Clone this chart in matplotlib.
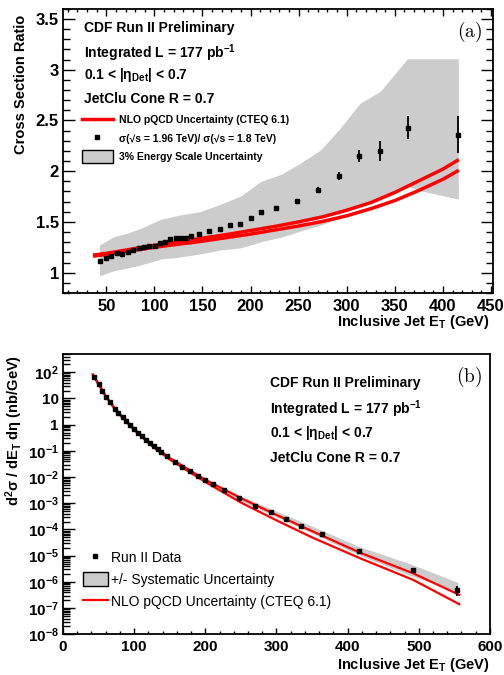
import numpy as np
import matplotlib
matplotlib.use("Agg")
import matplotlib.pyplot as plt
from matplotlib.lines import Line2D
from matplotlib.patches import Patch
from matplotlib.ticker import MultipleLocator, FixedLocator, FixedFormatter, NullFormatter

plt.rcParams["font.family"] = ["Liberation Sans", "DejaVu Sans"]
plt.rcParams["mathtext.fontset"] = "custom"
plt.rcParams["mathtext.rm"] = "Liberation Sans"
plt.rcParams["mathtext.it"] = "Liberation Sans:italic"
plt.rcParams["mathtext.bf"] = "Liberation Sans:bold"

# jet ET bins (GeV)
et_bins = [43.4, 49.9, 55.3, 61.0, 66.6, 72.6, 78.0, 83.8, 89.2, 94.7, 100.3, 105.7,
           111.2, 116.5, 122.1, 127.5, 133.0, 138.4, 146.2, 157.2, 167.9, 178.7, 189.4,
           200.2, 210.9, 226.6, 248.0, 269.8, 291.9, 313.0, 335.1, 364.0, 416.0, 492.3, 554.1]

# (a) ratio 1.96 / 1.8 TeV
ratio = [1.11, 1.14, 1.16, 1.19, 1.18, 1.20, 1.22, 1.24, 1.25, 1.26, 1.26, 1.29,
         1.30, 1.33, 1.34, 1.34, 1.34, 1.36, 1.38, 1.41, 1.43, 1.47, 1.48,
         1.54, 1.60, 1.64, 1.71, 1.81, 1.95, 2.15, 2.20, 2.43, 2.36]
ratio_err = [0.005, 0.005, 0.005, 0.005, 0.005, 0.005, 0.005, 0.005, 0.005, 0.005, 0.005, 0.005,
             0.005, 0.005, 0.005, 0.005, 0.005, 0.005, 0.005, 0.005, 0.005, 0.005, 0.005,
             0.008, 0.01, 0.012, 0.02, 0.03, 0.04, 0.06, 0.1, 0.11, 0.18]

scale_et = [43, 58, 72, 86, 107, 124, 148, 169, 190, 211, 232, 252, 273, 292, 314, 335, 363, 380, 416]
scale_hi = [1.273, 1.355, 1.389, 1.438, 1.527, 1.563, 1.602, 1.675, 1.757, 1.90, 1.97, 2.08,
            2.21, 2.41, 2.67, 2.787, 3.107, 3.107, 3.107]
scale_lo = [0.967, 1.02, 1.045, 1.076, 1.135, 1.15, 1.185, 1.224, 1.245, 1.305, 1.35, 1.41,
            1.47, 1.53, 1.60, 1.70, 1.85, 1.80, 1.725]

nlo_ratio_et = [38, 50, 75, 100, 125, 150, 175, 200, 225, 250, 275, 300, 325, 350, 375, 400, 415]
nlo_ratio_hi = [1.175, 1.19, 1.23, 1.27, 1.305, 1.34, 1.375, 1.415, 1.455, 1.50, 1.55, 1.615,
                1.69, 1.79, 1.905, 2.02, 2.105]
nlo_ratio_lo = [1.165, 1.178, 1.215, 1.25, 1.28, 1.31, 1.345, 1.38, 1.42, 1.46, 1.505, 1.56,
                1.63, 1.71, 1.81, 1.92, 2.0]

# (b) cross section (nb/GeV)
xsec = [64, 36, 18.8, 11.4, 7.1, 4.1, 2.8, 1.9, 1.34, 0.94, 0.68, 0.48, 0.36, 0.27, 0.20,
        0.153, 0.117, 0.090, 0.0616, 0.0374, 0.0248, 0.0165, 0.0106, 0.00746, 0.00525,
        0.0031, 0.00158, 8.0e-4, 4.47e-4, 2.56e-4, 1.42e-4, 6.6e-5, 1.53e-5, 2.79e-6, 5.0e-7]
xsec_err = [0, 0, 0, 0, 0, 0, 0, 0, 0, 0, 0, 0, 0, 0, 0, 0, 0, 0, 0, 0, 0, 0, 0, 0, 0,
            0, 0, 0, 0, 0, 0, 0, 1.0e-6, 4.5e-7, 2.2e-7]

syst_et = [43, 60, 80, 100, 125, 150, 175, 200, 250, 300, 350, 416, 492, 555]
syst_hi = [72, 14.1, 2.8, 0.79, 0.195, 0.060, 0.0219, 0.0089, 1.9e-3, 5.0e-4, 1.35e-4,
           2.24e-5, 4.5e-6, 9.5e-7]
syst_lo = [56, 11.0, 2.19, 0.62, 0.151, 0.046, 0.0162, 0.0063, 1.26e-3, 3.0e-4, 7.2e-5,
           1.07e-5, 1.6e-6, 4.2e-7]

nlo_et = [42, 50, 60, 75, 100, 125, 150, 200, 250, 300, 350, 417, 492, 557]
nlo_hi = [83, 36.3, 12.6, 3.47, 0.69, 0.174, 0.0537, 7.9e-3, 1.58e-3, 3.6e-4, 8.7e-5,
          1.32e-5, 2.14e-6, 3.2e-7]
nlo_lo = [79, 34.7, 12.0, 3.24, 0.63, 0.155, 0.0468, 6.5e-3, 1.07e-3, 2.24e-4, 5.0e-5,
          8.1e-6, 1.2e-6, 1.41e-7]

band_col = "#cccccc"

fig = plt.figure(figsize=(5.04, 6.75), dpi=100)

# ---------------- panel (a) ----------------
ax1 = fig.add_axes([0.125, 0.566, 0.853, 0.421])
ax1.fill_between(scale_et, scale_lo, scale_hi, color=band_col, lw=0)
# gap between the two NLO curves is left white where the band does not reach
ax1.fill_between(nlo_ratio_et, nlo_ratio_lo, nlo_ratio_hi, color="white", lw=0,
                 where=np.array(nlo_ratio_et) <= 350)
ax1.plot(nlo_ratio_et, nlo_ratio_hi, color="red", lw=2.5)
ax1.plot(nlo_ratio_et, nlo_ratio_lo, color="red", lw=2.5)
n = len(ratio)
ax1.errorbar(et_bins[:n], ratio, yerr=ratio_err, fmt="s", color="black", ms=3,
             elinewidth=1.3, capsize=0)
ax1.set_xlim(5, 452)
ax1.set_ylim(0.8, 3.6)
ax1.xaxis.set_major_locator(MultipleLocator(50))
ax1.xaxis.set_minor_locator(MultipleLocator(10))
ax1.yaxis.set_major_locator(MultipleLocator(0.5))
ax1.yaxis.set_minor_locator(MultipleLocator(0.1))
ax1.tick_params(which="both", direction="in", top=True, right=True, width=1)
ax1.tick_params(axis="x", which="major", length=5, labelsize=12, pad=4)
ax1.tick_params(axis="x", which="minor", length=2.5)
ax1.tick_params(axis="y", which="major", length=8.5, labelsize=12, pad=3)
ax1.tick_params(axis="y", which="minor", length=5)
ax1.yaxis.set_major_formatter(matplotlib.ticker.FuncFormatter(lambda v, p: "%g" % v))
for lab in ax1.get_xticklabels() + ax1.get_yticklabels():
    lab.set_fontweight("bold")
for sp in ax1.spines.values():
    sp.set_linewidth(1.3)

ax1.set_ylabel("Cross Section Ratio", fontsize=10.5, fontweight="bold", loc="top")
ax1.yaxis.set_label_coords(-0.081, 0.979)
ax1.set_xlabel(r"Inclusive Jet E$_{\mathbf{T}}$ (GeV)", fontsize=10.5,
               fontweight="bold", loc="right")
ax1.xaxis.set_label_coords(0.993, -0.07)

txt = dict(transform=ax1.transAxes, fontsize=10, fontweight="bold", va="center", ha="left")
ax1.text(0.049, 0.931, "CDF Run II Preliminary", **txt)
ax1.text(0.049, 0.844, r"Integrated L = 177 pb$^{\mathbf{-1}}$", **txt)
ax1.text(0.049, 0.768, r"0.1 < |η$_{\mathbf{Det}}$| < 0.7", **txt)
ax1.text(0.049, 0.682, "JetClu Cone R = 0.7", **txt)
ax1.text(0.974, 0.919, r"$\mathrm{(a)}$", math_fontfamily="cm", fontsize=14,
         transform=ax1.transAxes, ha="right", va="center")

h1 = [Line2D([], [], color="red", lw=2.5),
      Line2D([], [], color="black", marker="s", ls="none", ms=3),
      Patch(facecolor=band_col, edgecolor="black", lw=1)]
l1 = ["NLO pQCD Uncertainty (CTEQ 6.1)",
      "σ(√s = 1.96 TeV)/ σ(√s = 1.8 TeV)",
      "3% Energy Scale Uncertainty"]
ax1.legend(h1, l1, loc="upper left", bbox_to_anchor=(0.045, 0.63), frameon=False,
           prop={"weight": "bold", "size": 7.5}, handlelength=2.9, handleheight=1.4,
           handletextpad=0.65, labelspacing=0.6, borderpad=0, borderaxespad=0)

# ---------------- panel (b) ----------------
ax2 = fig.add_axes([0.125, 0.0603, 0.847, 0.4153])
ax2.set_yscale("log")
ax2.fill_between(syst_et, syst_lo, syst_hi, color=band_col, lw=0)
ax2.plot(nlo_et, nlo_hi, color="red", lw=1.6)
ax2.plot(nlo_et, nlo_lo, color="red", lw=1.6)
ax2.errorbar(et_bins, xsec, yerr=xsec_err, fmt="s", color="black", ms=3.4,
             elinewidth=1.3, capsize=0)
ax2.set_xlim(0, 600)
ax2.set_ylim(1e-8, 5e2)
ax2.xaxis.set_major_locator(MultipleLocator(100))
ax2.xaxis.set_minor_locator(MultipleLocator(20))
decades = [1e-8, 1e-7, 1e-6, 1e-5, 1e-4, 1e-3, 1e-2, 1e-1, 1, 10, 100]
dec_labels = [r"$\mathbf{10^{-8}}$", r"$\mathbf{10^{-7}}$", r"$\mathbf{10^{-6}}$",
              r"$\mathbf{10^{-5}}$", r"$\mathbf{10^{-4}}$", r"$\mathbf{10^{-3}}$",
              r"$\mathbf{10^{-2}}$", r"$\mathbf{10^{-1}}$", "1", "10", r"$\mathbf{10^{2}}$"]
ax2.yaxis.set_major_locator(FixedLocator(decades))
ax2.yaxis.set_major_formatter(FixedFormatter(dec_labels))
ax2.yaxis.set_minor_locator(matplotlib.ticker.LogLocator(base=10, subs=np.arange(2, 10), numticks=20))
ax2.yaxis.set_minor_formatter(NullFormatter())
ax2.tick_params(which="both", direction="in", width=1)
ax2.tick_params(axis="x", which="major", length=4.5, labelsize=11, pad=4)
ax2.tick_params(axis="x", which="minor", length=2.5)
ax2.tick_params(axis="y", which="major", length=8.5, labelsize=11, pad=3)
ax2.tick_params(axis="y", which="minor", length=5)
for lab in ax2.get_xticklabels() + ax2.get_yticklabels():
    lab.set_fontweight("bold")
for sp in ax2.spines.values():
    sp.set_linewidth(1.3)

ax2.set_ylabel(r"d$^{\mathbf{2}}$σ / dE$_{\mathbf{T}}$ dη (nb/GeV)", fontsize=10.5,
               fontweight="bold", loc="top")
ax2.yaxis.set_label_coords(-0.089, 0.996)
ax2.set_xlabel(r"Inclusive Jet E$_{\mathbf{T}}$ (GeV)", fontsize=10.5,
               fontweight="bold", loc="right")
ax2.xaxis.set_label_coords(1.0, -0.077)

txt2 = dict(transform=ax2.transAxes, fontsize=10, fontweight="bold", va="center", ha="left")
ax2.text(0.486, 0.895, "CDF Run II Preliminary", **txt2)
ax2.text(0.486, 0.804, r"Integrated L = 177 pb$^{\mathbf{-1}}$", **txt2)
ax2.text(0.486, 0.717, r"0.1 < |η$_{\mathbf{Det}}$| < 0.7", **txt2)
ax2.text(0.486, 0.630, "JetClu Cone R = 0.7", **txt2)
ax2.text(0.981, 0.919, r"$\mathrm{(b)}$", math_fontfamily="cm", fontsize=14,
         transform=ax2.transAxes, ha="right", va="center")

h2 = [Line2D([], [], color="black", marker="s", ls="none", ms=3.4),
      Patch(facecolor=band_col, edgecolor="black", lw=1),
      Line2D([], [], color="red", lw=1.6)]
l2 = ["Run II Data", "+/- Systematic Uncertainty", "NLO pQCD Uncertainty (CTEQ 6.1)"]
ax2.legend(h2, l2, loc="upper left", bbox_to_anchor=(0.046, 0.30), frameon=False,
           fontsize=10, handlelength=1.85, handleheight=1.15, handletextpad=0.2,
           labelspacing=0.55, borderpad=0, borderaxespad=0)

fig.savefig("out.png", dpi=100)
